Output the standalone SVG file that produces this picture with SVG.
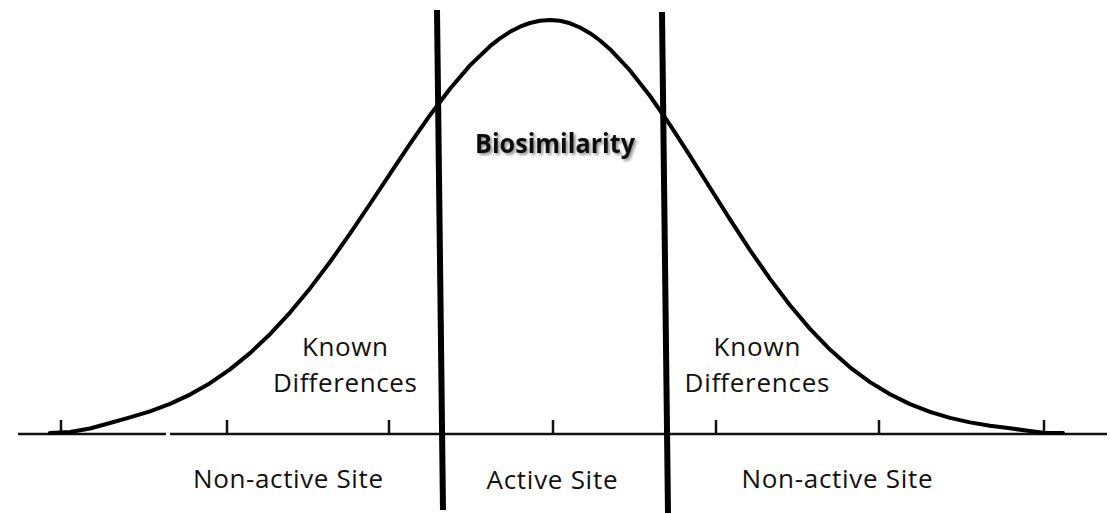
<svg xmlns="http://www.w3.org/2000/svg" width="1110" height="514" viewBox="0 0 1110 514">
  <defs>
    <style>
      .axis { stroke: #111; stroke-width: 2.5; fill: none; }
      .tick { stroke: #111; stroke-width: 2.5; }
      .curve { stroke: #000; stroke-width: 4; fill: none; stroke-linejoin: round; stroke-linecap: round; }
      .divider { stroke: #000; stroke-width: 6; }
      .lbl { font-family: "Open Sans", "Liberation Sans", sans-serif; font-size: 26px; fill: #111; text-anchor: middle; }
      .title { font-family: "Open Sans", "Liberation Sans", sans-serif; font-size: 26px; font-weight: bold; fill: #111; text-anchor: middle; }
    </style>
    <filter id="shadow" x="-10%" y="-30%" width="130%" height="170%">
      <feGaussianBlur in="SourceAlpha" stdDeviation="1.5"/>
      <feOffset dx="2" dy="2" result="b"/>
      <feComponentTransfer><feFuncA type="linear" slope="0.45"/></feComponentTransfer>
      <feMerge><feMergeNode/><feMergeNode in="SourceGraphic"/></feMerge>
    </filter>
  </defs>
  <rect width="1110" height="514" fill="#fff"/>

  <!-- horizontal axis with tick marks -->
  <g id="axis">
    <line class="axis" x1="18" y1="434" x2="166" y2="434"/>
    <line class="axis" x1="170" y1="434" x2="1107" y2="434"/>
    <line class="tick" x1="61" y1="420" x2="61" y2="434"/>
    <line class="tick" x1="227" y1="420" x2="227" y2="434"/>
    <line class="tick" x1="389" y1="420" x2="389" y2="434"/>
    <line class="tick" x1="553" y1="420" x2="553" y2="434"/>
    <line class="tick" x1="716" y1="420" x2="716" y2="434"/>
    <line class="tick" x1="879" y1="420" x2="879" y2="434"/>
    <line class="tick" x1="1044" y1="420" x2="1044" y2="434"/>
  </g>

  <!-- bell curve: peak at x=550, left sigma ~166, right sigma ~157 -->
  <g id="curve">
    <path class="curve" d="M 50 433 L 70 432 L 90 428.5 L 110 423 L 130 417.3 L 150 411.3 L 170 403.9 L 190 394.6 L 210 383.2 L 230 369.4 L 250 353.1 L 270 334.2 L 290 312.6 L 310 288.4 L 330 262 L 350 233.6 L 370 204 L 390 173.8 L 410 143.9 L 430 115.2 L 450 88.7 L 470 65.4 L 490 46.2 L 500 38.4 L 510 31.8 L 520 26.7 L 530 23 L 540 20.8 L 550 20 L 560 20.8 L 570 23.3 L 580 27.5 L 590 33.2 L 600 40.5 L 610 49.2 L 630 70.4 L 650 96 L 670 124.9 L 690 155.8 L 710 187.7 L 730 219.4 L 750 250.1 L 770 278.9 L 790 305.3 L 810 328.9 L 830 349.6 L 850 367.3 L 870 382.1 L 890 394.3 L 910 404.1 L 930 411.9 L 950 417.9 L 970 422.4 L 990 425.8 L 1010 428.3 L 1030 431 L 1045 433 L 1063 433"/>
  </g>

  <!-- region boundaries -->
  <g id="dividers">
    <line class="divider" x1="437" y1="10" x2="443" y2="510"/>
    <line class="divider" x1="662" y1="12" x2="668" y2="513"/>
  </g>

  <g id="title-biosimilarity">
    <text class="title" x="555" y="153" textLength="160" lengthAdjust="spacingAndGlyphs" filter="url(#shadow)">Biosimilarity</text>
  </g>

  <g id="known-left">
    <text class="lbl" x="345" y="356" textLength="86">Known</text>
    <text class="lbl" x="345" y="392" textLength="144">Differences</text>
  </g>
  <g id="known-right">
    <text class="lbl" x="757" y="356" textLength="87">Known</text>
    <text class="lbl" x="757" y="392" textLength="145">Differences</text>
  </g>

  <g id="site-left">
    <text class="lbl" x="288" y="488" textLength="190">Non-active Site</text>
  </g>
  <g id="site-center">
    <text class="lbl" x="552" y="489" textLength="131">Active Site</text>
  </g>
  <g id="site-right">
    <text class="lbl" x="837" y="488" textLength="191">Non-active Site</text>
  </g>
</svg>
